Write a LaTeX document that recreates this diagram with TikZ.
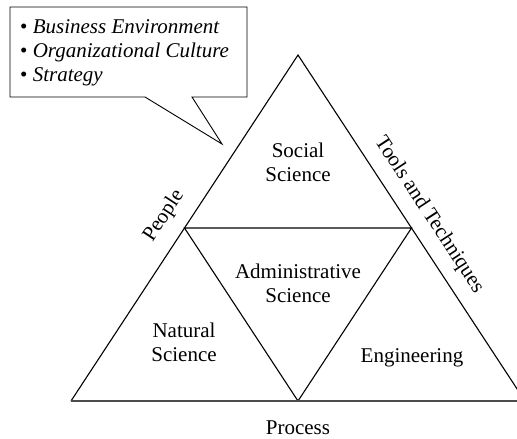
\documentclass[tikz,border=0pt]{standalone}
\usepackage{fontspec}
\setmainfont{Liberation Serif}
\begin{document}
\begin{tikzpicture}[x=1pt,y=-1pt,
  edge/.style={line width=1.1pt,black},
  base/.style={line width=1.6pt,black!70},
  lbl/.style={font=\fontsize{21}{24}\selectfont,align=center,inner sep=0pt},
  bul/.style={font=\fontsize{21}{24}\selectfont,anchor=base west,inner sep=0pt}]
\useasboundingbox (0,0) rectangle (517,439);
\clip (0,0) rectangle (517,439);
% vertices
\coordinate (A) at (298,55);
\coordinate (BL) at (71,401);
\coordinate (BR) at (525,401);
\coordinate (ML) at (184.5,228);
\coordinate (MR) at (411.5,228);
\coordinate (MB) at (298,401);
\draw[edge] (BL) -- (A) -- (BR);
\draw[edge] (ML) -- (MR) -- (MB) -- cycle;
\draw[base] (BL) -- (BR);
% callout
\coordinate (T1) at (145,97);
\coordinate (T2) at (192,97);
\coordinate (TP) at (222,144);
\draw[line width=0.9pt,line join=miter] (T1) -- (10,97) -- (10,7) -- (247,7) -- (247,97) -- (T2) -- (TP) -- (T1);
\node[bul] (b1) at (20,33) {\textbullet\ \textit{Business Environment}};
\node[bul] (b2) at (20,57) {\textbullet\ \textit{Organizational Culture}};
\node[bul] (b3) at (20,81) {\textbullet\ \textit{Strategy}};
% labels
\node[lbl,anchor=base] (soc) at (298,157) {Social};
\node[lbl,anchor=base] (soc2) at (298,181) {Science};
\node[lbl,anchor=base] (adm) at (298,278) {Administrative};
\node[lbl,anchor=base] (adm2) at (298,302) {Science};
\node[lbl,anchor=base] (nat) at (184,337) {Natural};
\node[lbl,anchor=base] (nat2) at (184,361) {Science};
\node[lbl,anchor=base] (eng) at (412,362) {Engineering};
\node[lbl,anchor=base] (proc) at (298,434) {Process};
\node[lbl,rotate=56.7] (ppl) at (164,216) {People};
\node[lbl,rotate=-56.7] (tools) at (429,215) {Tools and Techniques};
\end{tikzpicture}
\end{document}
